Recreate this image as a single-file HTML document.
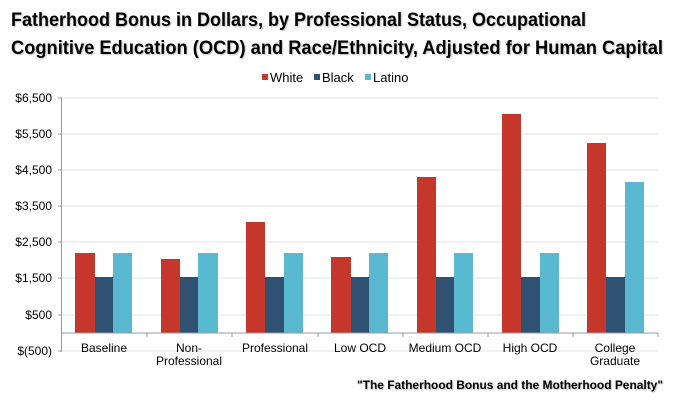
<!DOCTYPE html>
<html><head><style>body{margin:0;background:#fff}svg{display:block}</style></head><body>
<svg width="674" height="400" xmlns="http://www.w3.org/2000/svg" font-family="Liberation Sans, Arial, sans-serif">
<defs><filter id="sh" x="-5%" y="-20%" width="110%" height="140%"><feDropShadow dx="1" dy="1" stdDeviation="0.6" flood-color="#000" flood-opacity="0.25"/></filter></defs>
<g font-weight="bold" font-size="19" fill="#000" filter="url(#sh)">
<text x="11" y="26" textLength="575" lengthAdjust="spacingAndGlyphs">Fatherhood Bonus in Dollars, by Professional Status, Occupational</text>
<text x="11" y="54" textLength="652" lengthAdjust="spacingAndGlyphs">Cognitive Education (OCD) and Race/Ethnicity, Adjusted for Human Capital</text>
</g>
<g font-size="13">
<rect x="262" y="74" width="6" height="6" fill="#c4372a"/><text x="270" y="82">White</text>
<rect x="314" y="74" width="6" height="6" fill="#2f5272"/><text x="322" y="82">Black</text>
<rect x="365" y="74" width="6" height="6" fill="#58b9d1"/><text x="373" y="82">Latino</text>
</g>
<g stroke="#e3e3e3" stroke-width="1">
<line x1="62" x2="658" y1="98" y2="98"/><line x1="62" x2="658" y1="134" y2="134"/>
<line x1="62" x2="658" y1="170" y2="170"/><line x1="62" x2="658" y1="206" y2="206"/>
<line x1="62" x2="658" y1="242" y2="242"/><line x1="62" x2="658" y1="278" y2="278"/>
<line x1="62" x2="658" y1="315" y2="315"/><line x1="62" x2="658" y1="351" y2="351"/>
</g>
<g font-size="12" text-anchor="end">
<text x="52" y="102">$6,500</text><text x="52" y="138">$5,500</text><text x="52" y="174">$4,500</text>
<text x="52" y="210">$3,500</text><text x="52" y="246">$2,500</text><text x="52" y="282">$1,500</text>
<text x="52" y="319">$500</text><text x="52" y="355">$(500)</text>
</g>
<g id="bars">
<rect x="75" y="253" width="20" height="80" fill="#c4372a"/><rect x="95" y="277" width="18" height="56" fill="#2f5272"/><rect x="113" y="253" width="19" height="80" fill="#58b9d1"/>
<rect x="161" y="259" width="19" height="74" fill="#c4372a"/><rect x="180" y="277" width="18" height="56" fill="#2f5272"/><rect x="198" y="253" width="20" height="80" fill="#58b9d1"/>
<rect x="246" y="222" width="19" height="111" fill="#c4372a"/><rect x="265" y="277" width="19" height="56" fill="#2f5272"/><rect x="284" y="253" width="19" height="80" fill="#58b9d1"/>
<rect x="331" y="257" width="20" height="76" fill="#c4372a"/><rect x="351" y="277" width="18" height="56" fill="#2f5272"/><rect x="369" y="253" width="19" height="80" fill="#58b9d1"/>
<rect x="417" y="177" width="19" height="156" fill="#c4372a"/><rect x="436" y="277" width="18" height="56" fill="#2f5272"/><rect x="454" y="253" width="19" height="80" fill="#58b9d1"/>
<rect x="502" y="114" width="19" height="219" fill="#c4372a"/><rect x="521" y="277" width="19" height="56" fill="#2f5272"/><rect x="540" y="253" width="19" height="80" fill="#58b9d1"/>
<rect x="587" y="143" width="19" height="190" fill="#c4372a"/><rect x="606" y="277" width="19" height="56" fill="#2f5272"/><rect x="625" y="182" width="19" height="151" fill="#58b9d1"/>
</g>
<g stroke="#999" stroke-width="1">
<line x1="61.5" x2="61.5" y1="98" y2="352"/>
<line x1="58" x2="62" y1="98" y2="98"/><line x1="58" x2="62" y1="134" y2="134"/><line x1="58" x2="62" y1="170" y2="170"/><line x1="58" x2="62" y1="206" y2="206"/><line x1="58" x2="62" y1="242" y2="242"/><line x1="58" x2="62" y1="278" y2="278"/><line x1="58" x2="62" y1="315" y2="315"/><line x1="58" x2="62" y1="351" y2="351"/>
<line x1="62" x2="658" y1="333" y2="333"/>
<line x1="147" x2="147" y1="333" y2="337"/><line x1="232" x2="232" y1="333" y2="337"/><line x1="318" x2="318" y1="333" y2="337"/><line x1="403" x2="403" y1="333" y2="337"/><line x1="488" x2="488" y1="333" y2="337"/><line x1="573" x2="573" y1="333" y2="337"/><line x1="658" x2="658" y1="333" y2="337"/>
</g>
<g font-size="12" text-anchor="middle">
<text x="104" y="352">Baseline</text>
<text x="189" y="352">Non-</text><text x="189" y="365">Professional</text>
<text x="275" y="352">Professional</text>
<text x="360" y="352">Low OCD</text>
<text x="445" y="352">Medium OCD</text>
<text x="530" y="352">High OCD</text>
<text x="615" y="352">College</text><text x="615" y="365">Graduate</text>
</g>
<text x="357" y="389" font-size="12" font-weight="bold" textLength="306" lengthAdjust="spacingAndGlyphs" filter="url(#sh)">"The Fatherhood Bonus and the Motherhood Penalty"</text>
</svg>
</body></html>
